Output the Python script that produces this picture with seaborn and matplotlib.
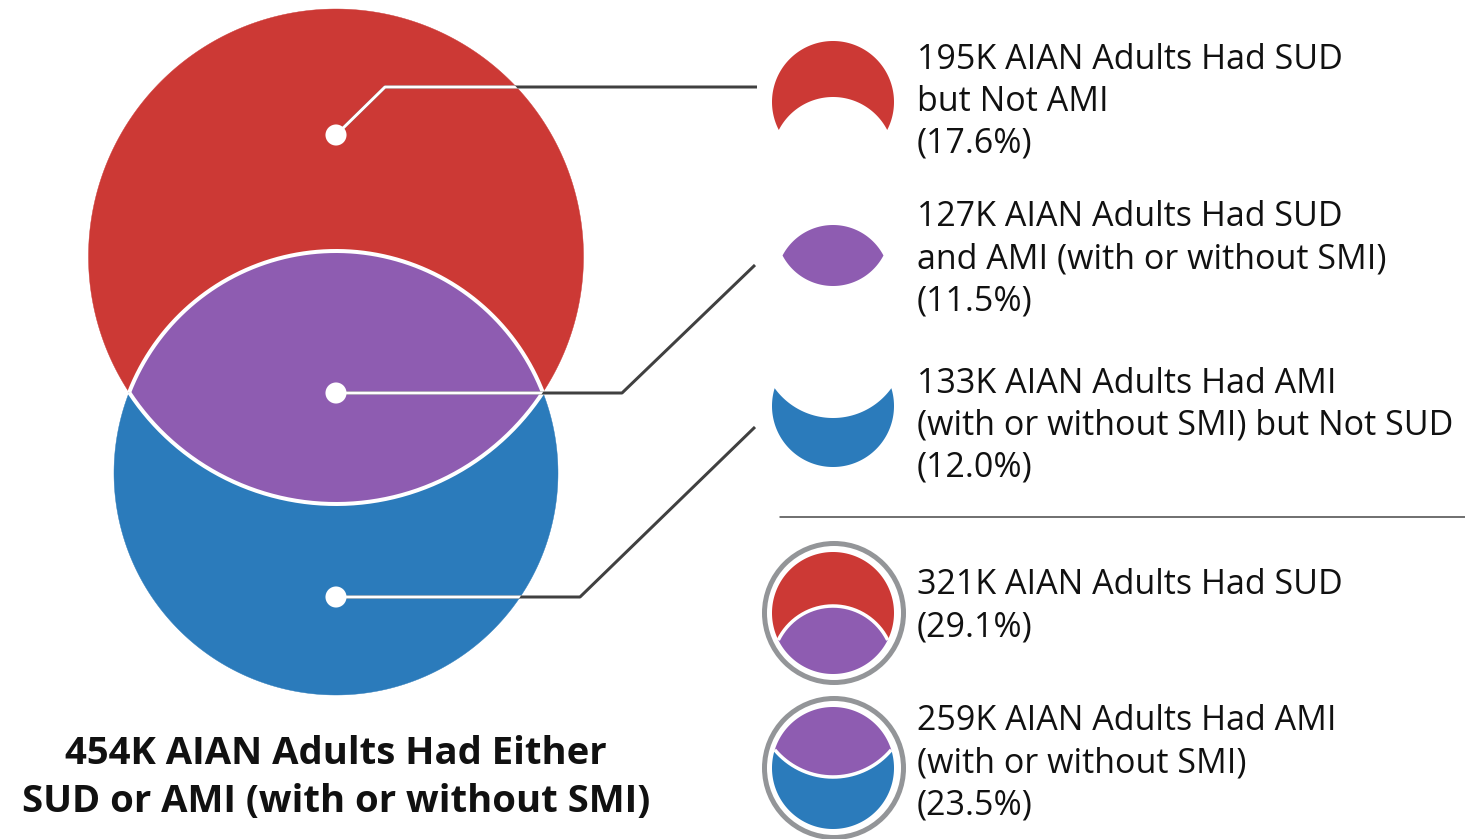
import numpy as np
import pandas as pd
import matplotlib
matplotlib.use("Agg")
import matplotlib.pyplot as plt
from matplotlib.patches import Circle, Polygon
import seaborn as sns

# ---------------- data ----------------
region_keys = ["sud_not_ami", "sud_and_ami", "ami_not_sud", "sud_total", "ami_total"]
counts_k = [195, 127, 133, 321, 259]
percents = [17.6, 11.5, 12.0, 29.1, 23.5]
label_lines = [
    ["{k}K AIAN Adults Had SUD", "but Not AMI"],
    ["{k}K AIAN Adults Had SUD", "and AMI (with or without SMI)"],
    ["{k}K AIAN Adults Had AMI", "(with or without SMI) but Not SUD"],
    ["{k}K AIAN Adults Had SUD"],
    ["{k}K AIAN Adults Had AMI", "(with or without SMI)"],
]
total_k = 454
title_lines = ["{k}K AIAN Adults Had Either", "SUD or AMI (with or without SMI)"]

# ---------------- style ----------------
RED = "#CC3935"
PURPLE = "#8E5CB1"
BLUE = "#2B7BBB"
RING = "#939598"
LINE = "#404040"
TEXT = "#111111"

sns.set_theme(style="white")
plt.rcParams['font.family'] = ['Open Sans', 'DejaVu Sans']

W, H = 1465, 839
fig = plt.figure(figsize=(W / 100, H / 100), dpi=100)
ax = fig.add_axes([0, 0, 1, 1])
PX = 0.72  # points per pixel


def arc(x, y, r, t0, t1, n=240):
    t = np.linspace(t0, t1, n)
    return np.c_[x + r * np.cos(t), y + r * np.sin(t)]


def regions(x, ya, ra, yb, rb):
    """Two vertically aligned circles, A above B (pixel coords, y down).
    Returns polygons for A-only, A∩B, B-only and the two inner arcs."""
    d = yb - ya
    a = (d * d + ra * ra - rb * rb) / (2 * d)
    h = np.sqrt(ra * ra - a * a)
    tA = np.arctan2(a, h)
    tB = np.arctan2(a - d, h)
    a_top = arc(x, ya, ra, tA, -np.pi - tA)
    a_bot = arc(x, ya, ra, np.pi - tA, tA)
    b_top_lr = arc(x, yb, rb, -np.pi - tB, tB)
    b_top_rl = b_top_lr[::-1]
    b_bot = arc(x, yb, rb, tB, np.pi - tB)
    only_a = np.vstack([a_top, b_top_lr])
    lens = np.vstack([b_top_rl, a_bot])
    only_b = np.vstack([b_bot, a_bot])
    return only_a, lens, only_b, a_bot, b_top_lr


def poly(pts, **kw):
    p = Polygon(pts, closed=True, **kw)
    ax.add_patch(p)
    return p


def arcline(pts, **kw):
    ax.plot(pts[:, 0], pts[:, 1], solid_capstyle='butt', **kw)


# ---------------- main venn ----------------
CX = 336
RED_Y, RED_R = 256.5, 247.5
BLUE_Y, BLUE_R = 473, 222
m_a, m_lens, m_b, m_abot, m_btop = regions(CX, RED_Y, RED_R, BLUE_Y, BLUE_R)
poly(m_a, fc=RED, ec=RED, lw=0.3, zorder=1)
poly(m_b, fc=BLUE, ec=BLUE, lw=0.3, zorder=1)
poly(m_lens, fc=PURPLE, ec='none', zorder=2)
arcline(m_abot, color='white', lw=4 * PX, zorder=3)
arcline(m_btop, color='white', lw=4 * PX, zorder=3)

red_clip = Circle((CX, RED_Y), RED_R, transform=ax.transData)
blue_clip = Circle((CX, BLUE_Y), BLUE_R, transform=ax.transData)

leaders = [
    ([336, 385, 757], [135, 87, 87], red_clip),
    ([336, 622, 755], [393, 393, 265], red_clip),
    ([336, 580, 755], [597, 597, 427], blue_clip),
]
for xs, ys, clipper in leaders:
    ax.plot(xs, ys, color=LINE, lw=3 * PX, zorder=4, solid_capstyle='butt')
    ln, = ax.plot(xs, ys, color='white', lw=3 * PX, zorder=5, solid_capstyle='butt')
    ln.set_clip_path(clipper)

anchors = pd.DataFrame({"region": region_keys[:3],
                        "x": [336, 336, 336], "y": [135, 393, 597]})
sns.scatterplot(data=anchors, x="x", y="y", color="white", s=230,
                edgecolor="none", zorder=6, ax=ax, legend=False)

# ---------------- legend icons ----------------
IX = 833
i1 = regions(IX, 102, 61, 158, 61)
poly(i1[0], fc=RED, ec='none', zorder=2)
i2 = regions(IX, 229, 57, 282, 57)
poly(i2[1], fc=PURPLE, ec='none', zorder=2)
i3 = regions(IX, 346, 72, 406, 61)
poly(i3[2], fc=BLUE, ec='none', zorder=2)
ax.add_patch(Circle((IX + 1, 613), 69.5, fc='none', ec=RING, lw=5 * PX, zorder=2))
i4 = regions(IX, 613, 61, 667, 61)
poly(i4[0], fc=RED, ec='none', zorder=2)
poly(i4[1], fc=PURPLE, ec='none', zorder=2)
arcline(i4[4], color='white', lw=3.5 * PX, zorder=3)
ax.add_patch(Circle((IX + 1, 768), 69.5, fc='none', ec=RING, lw=5 * PX, zorder=2))
i5 = regions(IX, 701, 76, 768, 61)
poly(i5[1], fc=PURPLE, ec='none', zorder=2)
poly(i5[2], fc=BLUE, ec='none', zorder=2)
arcline(i5[3], color='white', lw=3.5 * PX, zorder=3)

ax.plot([780, 1465], [517, 517], color="#444444", lw=1.5 * PX, zorder=2)

# ---------------- texts ----------------
TX = 917
first_baselines = [69, 226, 393, 594, 730]
LS = 42
FS = 24.5
for lines, k, pct, b0 in zip(label_lines, counts_k, percents, first_baselines):
    all_lines = [ln.format(k=k) for ln in lines] + [f"({pct:.1f}%)"]
    for i, t in enumerate(all_lines):
        ax.text(TX, b0 + i * LS, t, fontsize=FS, color=TEXT,
                ha='left', va='baseline', zorder=7)

for i, t in enumerate(title_lines):
    ax.text(336, 764 + i * 48, t.format(k=total_k), fontsize=27.5,
            fontweight='bold', color=TEXT, ha='center', va='baseline', zorder=7)

ax.set_xlim(0, W)
ax.set_ylim(H, 0)
ax.set_aspect('auto')
ax.axis('off')
fig.savefig("out.png", dpi=100)
